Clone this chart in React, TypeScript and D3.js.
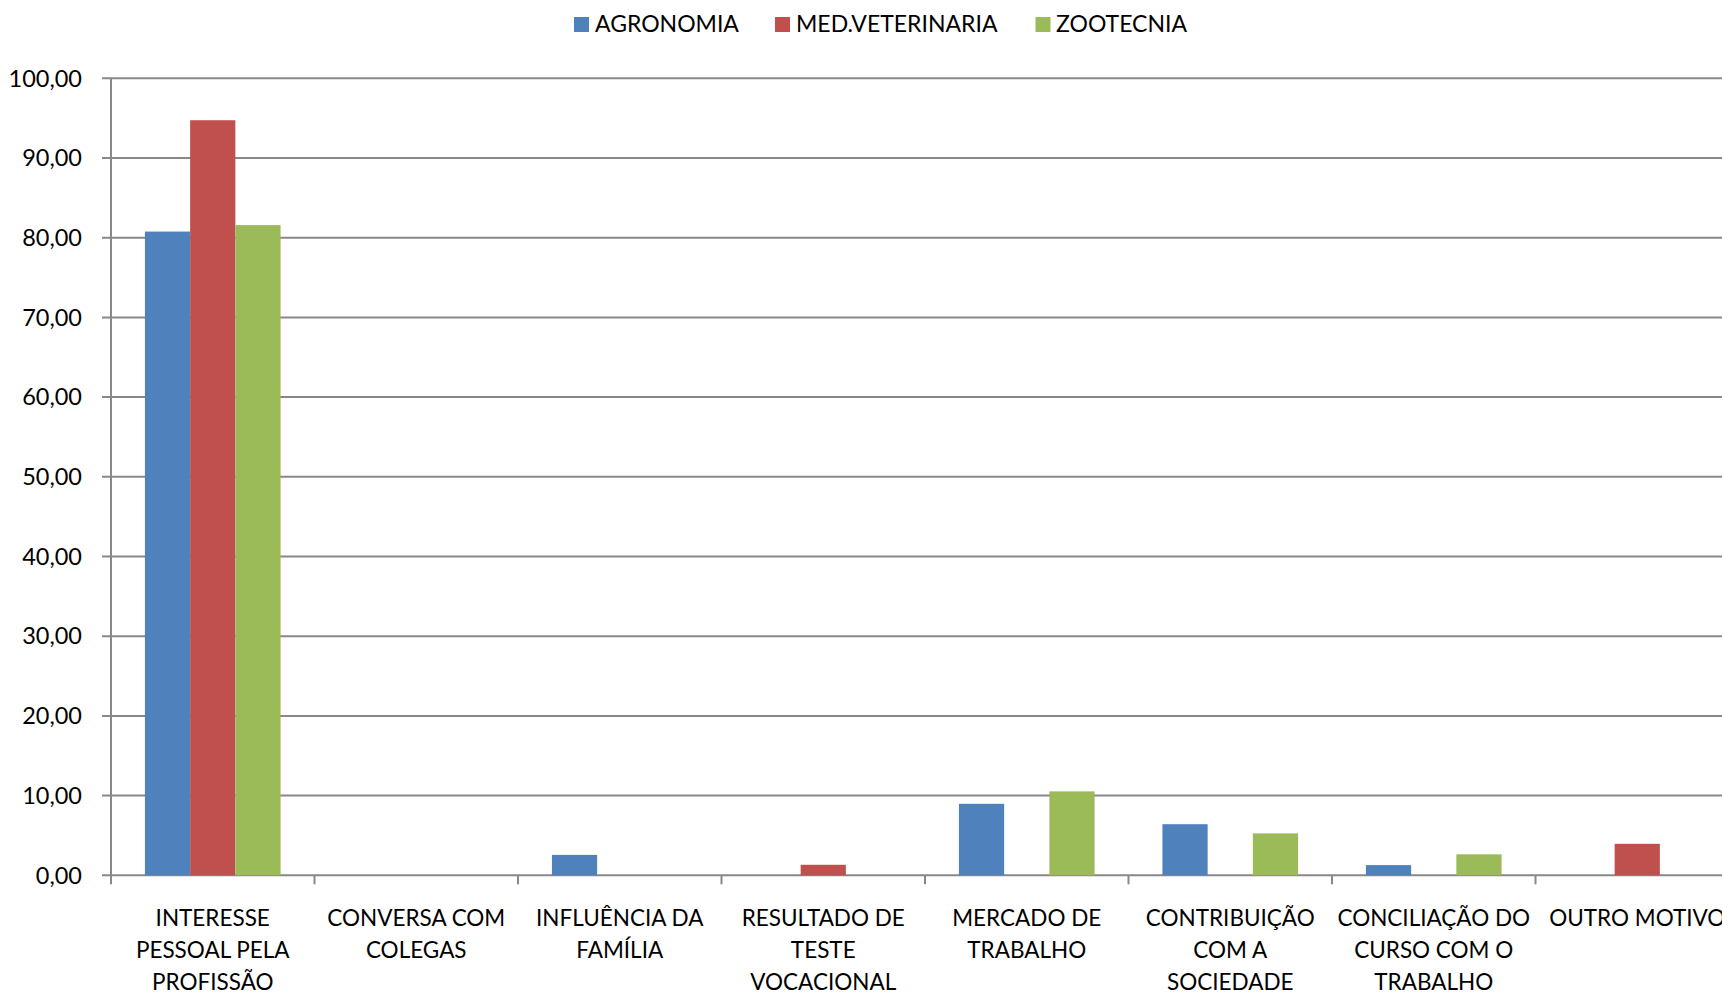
import React from "react";
import * as d3 from "d3";

const categories = [
  "INTERESSE PESSOAL PELA PROFISSÃO",
  "CONVERSA COM COLEGAS",
  "INFLUÊNCIA DA FAMÍLIA",
  "RESULTADO DE TESTE VOCACIONAL",
  "MERCADO DE TRABALHO",
  "CONTRIBUIÇÃO COM A SOCIEDADE",
  "CONCILIAÇÃO DO CURSO COM O TRABALHO",
  "OUTRO MOTIVO",
];
const categoryLines = [
  ["INTERESSE", "PESSOAL PELA", "PROFISSÃO"],
  ["CONVERSA COM", "COLEGAS"],
  ["INFLUÊNCIA DA", "FAMÍLIA"],
  ["RESULTADO DE", "TESTE", "VOCACIONAL"],
  ["MERCADO DE", "TRABALHO"],
  ["CONTRIBUIÇÃO", "COM A", "SOCIEDADE"],
  ["CONCILIAÇÃO DO", "CURSO COM O", "TRABALHO"],
  ["OUTRO MOTIVO"],
];
const seriesNames = ["AGRONOMIA", "MED.VETERINARIA", "ZOOTECNIA"];
const agronomia = [80.77, 0, 2.56, 0, 8.97, 6.41, 1.28, 0];
const medVeterinaria = [94.74, 0, 0, 1.32, 0, 0, 0, 3.95];
const zootecnia = [81.58, 0, 0, 0, 10.53, 5.26, 2.63, 0];
const yTicks = [0, 10, 20, 30, 40, 50, 60, 70, 80, 90, 100];
const colors = ["#4F81BD", "#C0504D", "#9BBB59"];

const W = 1722;
const H = 995;
const FONT = "Lato, 'Open Sans', sans-serif";

export default function App() {
  const series = [agronomia, medVeterinaria, zootecnia];
  const left = 111;
  const bandW = 203.5;
  const x = d3
    .scaleBand<string>()
    .domain(categories)
    .range([left, left + bandW * categories.length])
    .paddingInner(0)
    .paddingOuter(0);
  const y = d3.scaleLinear().domain([0, 100]).range([875.3, 78.3]);
  const barW = bandW / (3 + 1.5);
  const groupOff = (bandW - barW * 3) / 2;
  const fmt = (v: number) => v.toFixed(2).replace(".", ",");

  const legendItems = [
    { sq: 574, tx: 595 },
    { sq: 775, tx: 796 },
    { sq: 1035.5, tx: 1056 },
  ];

  return (
    <svg
      width={W}
      height={H}
      style={{ position: "absolute", left: 0, top: 0, background: "#fff" }}
      fontFamily={FONT}
    >
      {yTicks.map((t) => (
        <line
          key={"g" + t}
          x1={left - 9}
          x2={W}
          y1={y(t)}
          y2={y(t)}
          stroke="#888888"
          strokeWidth={2}
        />
      ))}
      <line x1={left} x2={left} y1={y(100)} y2={y(0) + 9} stroke="#888888" strokeWidth={2} />
      {categories.map((c, i) => (
        <line
          key={"t" + i}
          x1={(x(c) as number) + bandW}
          x2={(x(c) as number) + bandW}
          y1={y(0)}
          y2={y(0) + 9}
          stroke="#888888"
          strokeWidth={2}
        />
      ))}
      {yTicks.map((t) => (
        <text
          key={"yl" + t}
          x={82}
          y={y(t)}
          dy="0.35em"
          textAnchor="end"
          fontSize={23.5}
          fill="#000"
        >
          {fmt(t)}
        </text>
      ))}
      {series.map((s, si) =>
        s.map((v, i) =>
          v > 0 ? (
            <rect
              key={"b" + si + "-" + i}
              x={(x(categories[i]) as number) + groupOff + si * barW}
              y={y(v)}
              width={barW}
              height={y(0) - y(v)}
              fill={colors[si]}
            />
          ) : null
        )
      )}
      {categoryLines.map((lines, i) => (
        <text key={"xl" + i} textAnchor="middle" fontSize={22.5} fill="#000">
          {lines.map((ln, k) => (
            <tspan key={k} x={(x(categories[i]) as number) + bandW / 2} y={926 + k * 32}>
              {ln}
            </tspan>
          ))}
        </text>
      ))}
      {seriesNames.map((n, i) => (
        <g key={"lg" + i}>
          <rect x={legendItems[i].sq} y={17} width={15} height={15} fill={colors[i]} />
          <text x={legendItems[i].tx} y={32} fontSize={23} fill="#000">
            {n}
          </text>
        </g>
      ))}
    </svg>
  );
}
